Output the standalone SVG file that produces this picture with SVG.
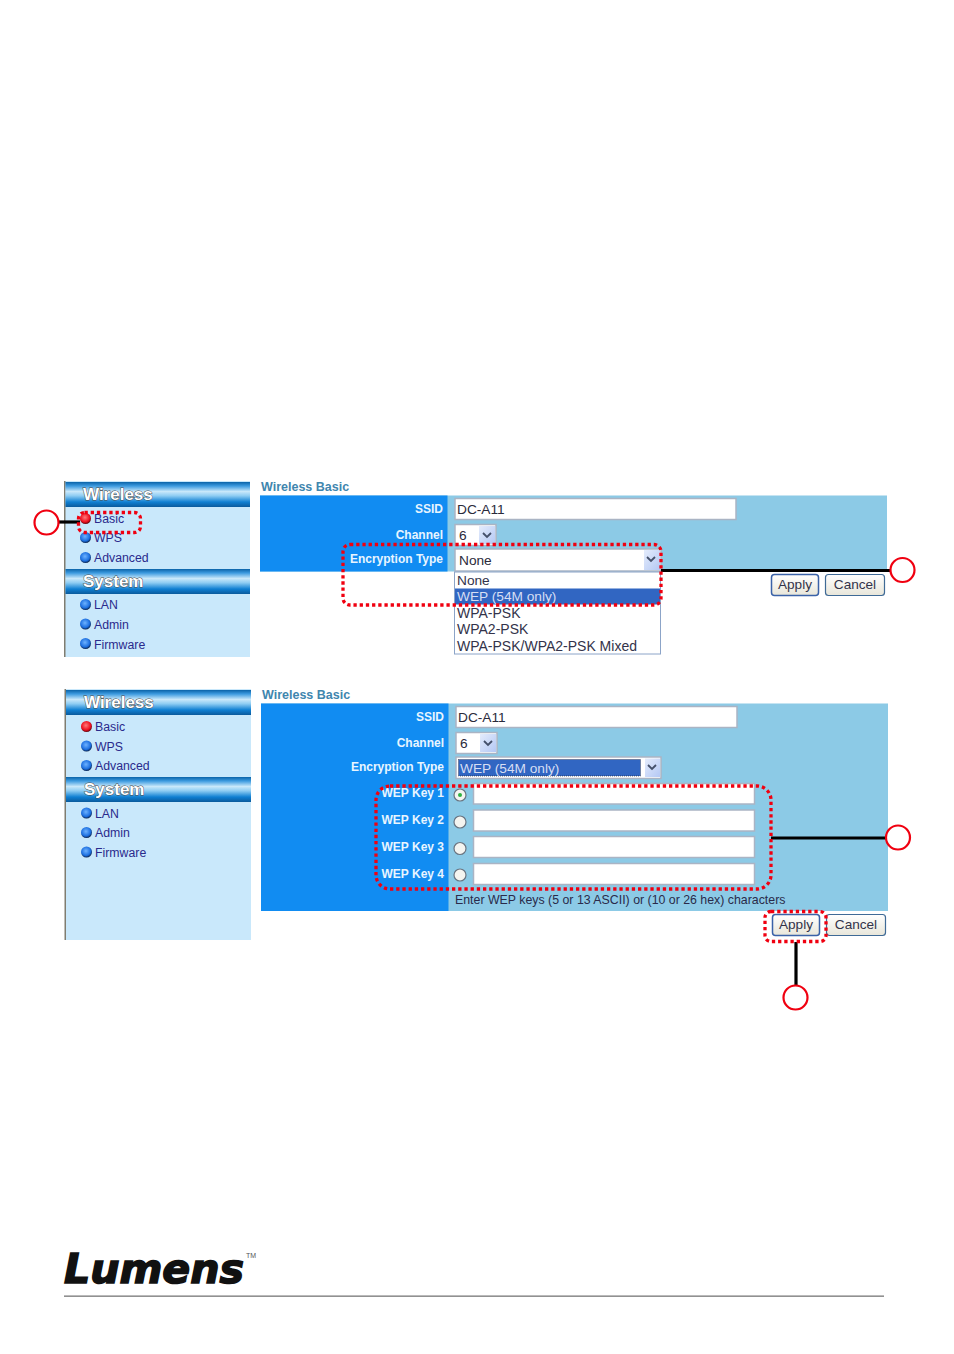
<svg xmlns="http://www.w3.org/2000/svg" width="954" height="1354" viewBox="0 0 954 1354">
<defs>
<linearGradient id="hdr" x1="0" y1="0" x2="0" y2="1">
<stop offset="0" stop-color="#0a63a8"/><stop offset="0.16" stop-color="#3d9be0"/><stop offset="0.38" stop-color="#c9e8fa"/><stop offset="0.55" stop-color="#8fcdf3"/><stop offset="0.8" stop-color="#0f7fd2"/><stop offset="1" stop-color="#0a5a9c"/>
</linearGradient>
<radialGradient id="blue" cx="0.45" cy="0.4" r="0.6"><stop offset="0" stop-color="#6db2ff"/><stop offset="0.7" stop-color="#1c6fe0"/><stop offset="1" stop-color="#0a2450"/></radialGradient>
<radialGradient id="red" cx="0.45" cy="0.4" r="0.6"><stop offset="0" stop-color="#ff7a7a"/><stop offset="0.7" stop-color="#ee1020"/><stop offset="1" stop-color="#600a14"/></radialGradient>
<linearGradient id="btn" x1="0" y1="0" x2="0" y2="1"><stop offset="0" stop-color="#ffffff"/><stop offset="1" stop-color="#e8e6da"/></linearGradient>
<linearGradient id="arrow" x1="0" y1="0" x2="1" y2="1"><stop offset="0" stop-color="#e4ecfc"/><stop offset="1" stop-color="#b4c8f4"/></linearGradient>
</defs>
<style>
text{font-family:"Liberation Sans",Arial,sans-serif}
.hd{font-size:17px;font-weight:bold;fill:#fff;stroke:#444;stroke-width:.9;paint-order:stroke}
.nav{font-size:12.300px;fill:#2a2a8c}
.ttl{font-size:12.500px;fill:#3f86ae;font-weight:bold}
.lb{font-size:12px;font-weight:bold;fill:#e8f5ff;text-anchor:end}
.val{font-size:13.700px;fill:#2a2a3a}
.opt{font-size:14px;fill:#33334a}
.inp{fill:#fff;stroke:#aab4c4;stroke-width:1.500}
.dot{fill:none;stroke:#f00010;stroke-width:3.300;stroke-dasharray:3.300 2.900}
.lead{fill:none;stroke:#000;stroke-width:3.200}
.ring{fill:#fff;stroke:#f00010;stroke-width:2.200}
.radio{fill:#f4f4f0;stroke:#6a7480;stroke-width:1.200}
.btnt{font-size:13.600px;fill:#33334a;text-anchor:middle}
</style>

<g id="sidebar-1">
<rect x="64" y="481" width="186" height="176" fill="#c9e8fb"/>
<rect x="64" y="481" width="1.500" height="176" fill="#807d70"/>
<rect x="65.500" y="482" width="184.500" height="25" fill="url(#hdr)"/>
<rect x="65.500" y="569" width="184.500" height="25" fill="url(#hdr)"/>
<text class="hd" x="83" y="500">Wireless</text>
<text class="hd" x="83" y="587">System</text>
<circle cx="85.500" cy="518.500" r="5.500" fill="url(#red)"/><text class="nav" x="94" y="523">Basic</text>
<circle cx="85.500" cy="537.500" r="5.500" fill="url(#blue)"/><text class="nav" x="94" y="542">WPS</text>
<circle cx="85.500" cy="557.500" r="5.500" fill="url(#blue)"/><text class="nav" x="94" y="562">Advanced</text>
<circle cx="85.500" cy="604.500" r="5.500" fill="url(#blue)"/><text class="nav" x="94" y="609">LAN</text>
<circle cx="85.500" cy="624" r="5.500" fill="url(#blue)"/><text class="nav" x="94" y="629">Admin</text>
<circle cx="85.500" cy="643.500" r="5.500" fill="url(#blue)"/><text class="nav" x="94" y="649">Firmware</text>
</g>

<g id="form-1">
<text class="ttl" x="261" y="491">Wireless Basic</text>
<rect x="260" y="495.500" width="627" height="76" fill="#8ccae6"/>
<rect x="260" y="495.500" width="187.500" height="76" fill="#118cf2"/>
<text class="lb" x="443" y="513">SSID</text>
<text class="lb" x="443" y="539">Channel</text>
<text class="lb" x="443" y="563">Encryption Type</text>
<rect class="inp" x="455" y="498.500" width="281" height="21"/>
<text class="val" x="457" y="513.500">DC-A11</text>
<rect class="inp" x="455" y="524.500" width="41" height="21"/>
<text class="val" x="459" y="539.500">6</text>
<rect x="479" y="526" width="16" height="18" fill="url(#arrow)"/>
<path d="M483 533l4 4 4-4" fill="none" stroke="#44506a" stroke-width="1.800"/>
<rect class="inp" x="455" y="549" width="206" height="22"/>
<text class="val" x="459" y="564.500">None</text>
<rect x="644" y="550" width="16" height="20" fill="url(#arrow)"/>
<path d="M647 557l4 4 4-4" fill="none" stroke="#44506a" stroke-width="1.800"/>
<rect x="454.500" y="572" width="206" height="82" fill="#fff" stroke="#8ca4c8"/>
<rect x="455" y="588.500" width="205" height="16" fill="#3166c2"/>
<text class="opt" x="457" y="585" style="font-size:13.700px">None</text>
<text class="opt" x="457" y="601" style="fill:#d6def4;font-size:13.700px">WEP (54M only)</text>
<text class="opt" x="457" y="618">WPA-PSK</text>
<text class="opt" x="457" y="634">WPA2-PSK</text>
<text class="opt" x="457" y="651">WPA-PSK/WPA2-PSK Mixed</text>
<rect x="771.500" y="574.500" width="47" height="21" rx="3" fill="url(#btn)" stroke="#3a62a8" stroke-width="1.500"/>
<text class="btnt" x="795" y="589">Apply</text>
<rect x="825.500" y="574.500" width="59" height="21" rx="3" fill="url(#btn)" stroke="#3f6a96" stroke-width="1.200"/>
<text class="btnt" x="855" y="589">Cancel</text>
</g>

<g id="sidebar-2">
<rect x="65" y="689" width="186" height="251" fill="#c9e8fb"/>
<rect x="64.500" y="689" width="1.500" height="251" fill="#807d70"/>
<rect x="66" y="690" width="185" height="25" fill="url(#hdr)"/>
<rect x="66" y="777" width="185" height="25" fill="url(#hdr)"/>
<text class="hd" x="84" y="708">Wireless</text>
<text class="hd" x="84" y="795">System</text>
<circle cx="86.500" cy="726.500" r="5.500" fill="url(#red)"/><text class="nav" x="95" y="731">Basic</text>
<circle cx="86.500" cy="746" r="5.500" fill="url(#blue)"/><text class="nav" x="95" y="751">WPS</text>
<circle cx="86.500" cy="765.500" r="5.500" fill="url(#blue)"/><text class="nav" x="95" y="770">Advanced</text>
<circle cx="86.500" cy="813" r="5.500" fill="url(#blue)"/><text class="nav" x="95" y="818">LAN</text>
<circle cx="86.500" cy="832.500" r="5.500" fill="url(#blue)"/><text class="nav" x="95" y="837">Admin</text>
<circle cx="86.500" cy="852" r="5.500" fill="url(#blue)"/><text class="nav" x="95" y="857">Firmware</text>
</g>

<g id="form-2">
<text class="ttl" x="262" y="699">Wireless Basic</text>
<rect x="261" y="703.500" width="627" height="207.500" fill="#8ccae6"/>
<rect x="261" y="703.500" width="187.500" height="207.500" fill="#118cf2"/>
<text class="lb" x="444" y="721">SSID</text>
<text class="lb" x="444" y="747">Channel</text>
<text class="lb" x="444" y="771">Encryption Type</text>
<rect class="inp" x="456" y="706.500" width="281" height="21"/>
<text class="val" x="458" y="721.500">DC-A11</text>
<rect class="inp" x="456" y="732.500" width="41" height="21"/>
<text class="val" x="460" y="747.500">6</text>
<rect x="480" y="734" width="16" height="18" fill="url(#arrow)"/>
<path d="M484 741l4 4 4-4" fill="none" stroke="#44506a" stroke-width="1.800"/>
<rect class="inp" x="456" y="757" width="205" height="21.500"/>
<rect x="458.500" y="759.500" width="182" height="16.500" fill="#3166c2" stroke="#223" stroke-dasharray="1 1" stroke-width=".7"/>
<text class="opt" x="460" y="772.500" style="fill:#d6def4;font-size:13.700px">WEP (54M only)</text>
<rect x="645" y="758.500" width="15" height="18.500" fill="url(#arrow)"/>
<path d="M648 765l4 4 4-4" fill="none" stroke="#44506a" stroke-width="1.800"/>
<text class="lb" x="444" y="797">WEP Key 1</text>
<text class="lb" x="444" y="824">WEP Key 2</text>
<text class="lb" x="444" y="851">WEP Key 3</text>
<text class="lb" x="444" y="878">WEP Key 4</text>
<circle class="radio" cx="460" cy="795" r="6"/><circle cx="460" cy="795" r="2" fill="#2fb040"/>
<circle class="radio" cx="460" cy="822" r="6"/>
<circle class="radio" cx="460" cy="848.500" r="6"/>
<circle class="radio" cx="460" cy="875" r="6"/>
<rect class="inp" x="473.500" y="783.500" width="281" height="20.500"/>
<rect class="inp" x="473.500" y="810" width="281" height="21"/>
<rect class="inp" x="473.500" y="836.500" width="281" height="21"/>
<rect class="inp" x="473.500" y="863.500" width="281" height="21"/>
<text x="455" y="904" style="font-size:12.350px;fill:#2a2a4a">Enter WEP keys (5 or 13 ASCII) or (10 or 26 hex) characters</text>
<rect x="772.500" y="914.500" width="47" height="21" rx="3" fill="url(#btn)" stroke="#3a62a8" stroke-width="1.500"/>
<text class="btnt" x="796" y="929">Apply</text>
<rect x="826.500" y="914.500" width="59" height="21" rx="3" fill="url(#btn)" stroke="#3f6a96" stroke-width="1.200"/>
<text class="btnt" x="856" y="929">Cancel</text>
</g>

<g id="connectors">
<path class="lead" d="M59 522H80"/>
<path class="lead" d="M661 570.500H892"/>
<path class="lead" d="M771 838H888"/>
<path class="lead" d="M796 942V986"/>
</g>

<g id="highlights">
<rect class="dot" x="78.500" y="512.500" width="62" height="20" rx="6"/>
<rect class="dot" x="343" y="544.500" width="318" height="60.500" rx="7"/>
<rect class="dot" x="376" y="786" width="395" height="103" rx="14"/>
<rect class="dot" x="765" y="911.500" width="61" height="30" rx="6"/>
</g>

<g id="callout-1"><circle class="ring" cx="46.500" cy="522.500" r="12"/></g>
<g id="callout-2"><circle class="ring" cx="902.500" cy="570" r="12"/></g>
<g id="callout-3"><circle class="ring" cx="898" cy="837.500" r="12"/></g>
<g id="callout-4"><circle class="ring" cx="795.500" cy="997.500" r="12"/></g>

<g id="footer">
<text x="64" y="1283" textLength="180" lengthAdjust="spacingAndGlyphs" style="font-family:'DejaVu Sans',sans-serif;font-size:40px;font-weight:bold;font-style:italic;fill:#111;stroke:#111;stroke-width:1.500">Lumens</text>
<text x="246" y="1258" style="font-size:7px;fill:#555">TM</text>
<rect x="64" y="1295.500" width="820" height="1.300" fill="#777"/>
</g>
</svg>
